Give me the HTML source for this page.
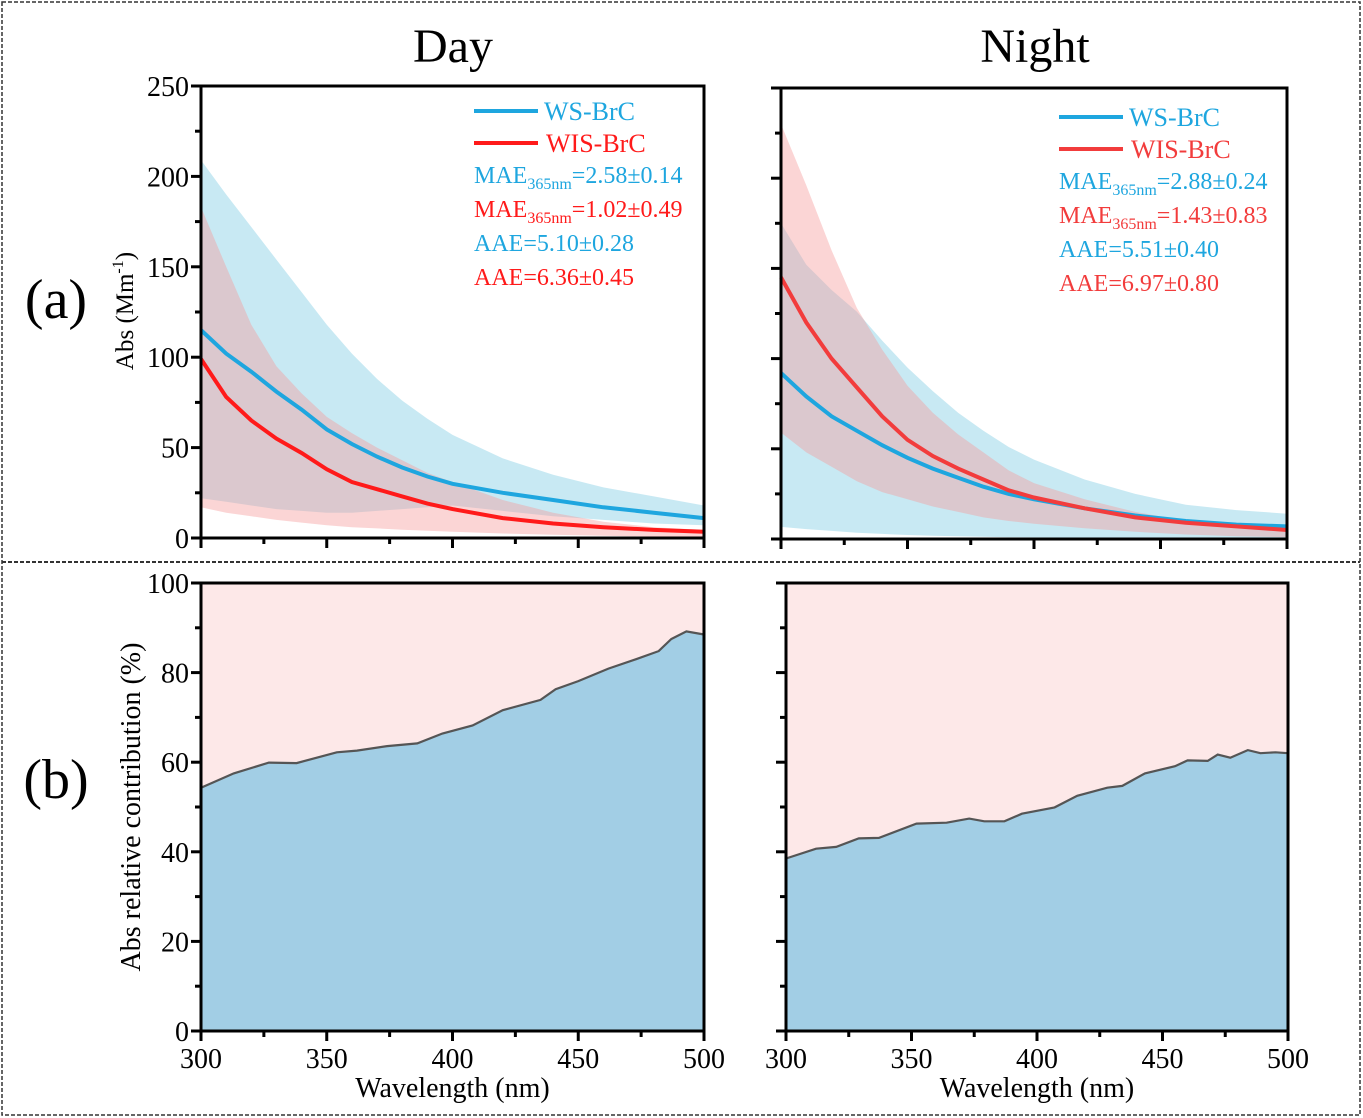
<!DOCTYPE html>
<html><head><meta charset="utf-8">
<style>
html,body{margin:0;padding:0;background:#fff;}
svg, svg text{font-family:"Times New Roman","Liberation Serif",Times,serif;}
svg{display:block;}
</style></head>
<body>
<svg id="fig" width="1363" height="1118" viewBox="0 0 1363 1118" xmlns="http://www.w3.org/2000/svg">
  <rect x="2" y="2" width="1358" height="1113" fill="none" stroke="#333" stroke-width="1.5" stroke-dasharray="4,2"/>
  <line x1="2" y1="562" x2="1360" y2="562" stroke="#333" stroke-width="2" stroke-dasharray="4,2"/>
  <text x="453" y="62" font-size="48" text-anchor="middle">Day</text>
  <text x="1035" y="62" font-size="48" text-anchor="middle">Night</text>
  <text x="56" y="318" font-size="56" text-anchor="middle">(a)</text>
  <text x="56" y="798" font-size="56" text-anchor="middle">(b)</text>
  <text transform="translate(133,311) rotate(-90)" font-size="25" text-anchor="middle">Abs (Mm<tspan font-size="16" dy="-10">-1</tspan><tspan dy="10">)</tspan></text>
  <text transform="translate(140,807) rotate(-90)" font-size="28" text-anchor="middle">Abs relative contribution (%)</text>
  <g id="plots"></g>
</svg>
<script>
const wl = [300,310,320,330,340,350,360,370,380,390,400,420,440,460,480,500];
const dayWS = [115,102,92,81,71,60,52,45,39,34,30,25,21,17,14,11];
const dayWSUp = [209,190,172,154,136,118,102,88,76,66,57,44,35,28,23,18];
const dayWSLo = [22,20,18,16,15,14,14,15,16,17,18,15,12,10,8,7];
const dayWIS = [99,78,65,55,47,38,31,27,23,19,16,11,8,6,4.5,3.5];
const dayWISUp = [183,150,118,95,80,67,58,50,43,36,31,21,14,9,6,4.5];
const dayWISLo = [17,14,12,10,8.5,7,6,5.3,4.6,4,3.5,2.5,1.8,1.2,0.8,0.5];
const nightWS = [92,79,68,60,52,45,39,34,29,25,22,17,13,10,8,7];
const nightWSUp = [175,152,138,126,110,95,82,70,60,51,44,33,25,19,16,14];
const nightWSLo = [6.7,5.5,4.5,3.5,2.8,2.2,1.8,1.5,1.2,1,0.9,0.8,0.7,0.6,0.5,0.5];
const nightWIS = [145,120,100,84,68,55,46,39,33,27,23,17,12,9,7,5];
const nightWISUp = [230,196,160,128,105,85,70,58,48,38,31,22,15,10,7,6];
const nightWISLo = [59,48,40,32,26,22,18,15,12,10,8.5,6,4,2.5,1.5,1];
const dayPctWl = [300,313,327,338,354,362,374,386,396,408,420,435,441,450,462,473,482,487,493,500];
const dayPct = [54.3,57.5,59.9,59.8,62.2,62.6,63.6,64.2,66.4,68.2,71.6,73.9,76.3,78.1,80.9,83,84.8,87.5,89.2,88.5];
const nightPctWl = [300,312,320,329,337,352,364,373,379,387,394,407,416,428,434,443,455,460,468,472,477,484,489,495,500];
const nightPct = [38.5,40.7,41.1,43,43.1,46.3,46.5,47.4,46.8,46.8,48.5,49.9,52.5,54.3,54.7,57.5,59.1,60.4,60.3,61.7,61,62.7,62,62.2,62];
const xTicks = [300,350,400,450,500];
const absTicks = [0,50,100,150,200,250];
const pctTicks = [0,20,40,60,80,100];

const NS = "http://www.w3.org/2000/svg";
const root = document.getElementById('plots');
function mk(tag, attrs, parent){const e=document.createElementNS(NS,tag);for(const k in attrs)e.setAttribute(k,attrs[k]);(parent||root).appendChild(e);return e;}
function lin(d0,d1,r0,r1){return v=>r0+(v-d0)/(d1-d0)*(r1-r0);}
function linePath(xs,ys,sx,sy){return xs.map((x,i)=>(i?'L':'M')+sx(x).toFixed(1)+','+sy(ys[i]).toFixed(1)).join('');}
function bandPath(xs,lo,hi,sx,sy){let p=linePath(xs,hi,sx,sy);for(let i=xs.length-1;i>=0;i--)p+='L'+sx(xs[i]).toFixed(1)+','+sy(lo[i]).toFixed(1);return p+'Z';}

function axes(g,sx,sy,x0,x1,y0,y1,ymin,ymax,yt,showY,showX){
  mk('rect',{x:x0,y:y1,width:x1-x0,height:y0-y1,fill:'none',stroke:'#000','stroke-width':3},g);
  yt.forEach((v,i)=>{
    const y=sy(v);
    const t=mk('line',{x1:x0-10,x2:x0,y1:y,y2:y,stroke:'#000','stroke-width':3},g);
    
    
    if(i<yt.length-1){const ym=sy((v+yt[i+1])/2);const m=mk('line',{x1:x0-6,x2:x0,y1:ym,y2:ym,stroke:'#000','stroke-width':3},g);
      
      }
    if(showY){const l=mk('text',{x:x0-12,y:y+10,'font-size':28,'text-anchor':'end'},g);l.textContent=v;
      
      }
  });
  xTicks.forEach((v,i)=>{
    const x=sx(v);
    const t=mk('line',{x1:x,x2:x,y1:y0,y2:y0+10,stroke:'#000','stroke-width':3},g);
    
    
    if(i<xTicks.length-1){const xm=sx(v+25);const m=mk('line',{x1:xm,x2:xm,y1:y0,y2:y0+6,stroke:'#000','stroke-width':3},g);
      
      }
    if(showX){const l=mk('text',{x:x,y:y0+37,'font-size':28,'text-anchor':'middle'},g);l.textContent=v;
      
      }
  });
  if(showX){const t=mk('text',{x:(x0+x1)/2,y:y0+66,'font-size':28,'text-anchor':'middle'},g);t.textContent='Wavelength (nm)';
    
    }
}

function absPanel(name,x0,x1,y1,y0,ws,wsU,wsL,wis,wisU,wisL,wisColor,legX,legY,labels,showY){
  const g=mk('g',{});
  
  
  const sx=lin(300,500,x0,x1), sy=lin(0,250,y0,y1);
  const b1=mk('path',{d:bandPath(wl,wsL,wsU,sx,sy),fill:'#a6dcec','fill-opacity':0.62},g);
  
  
  const b2=mk('path',{d:bandPath(wl,wisL,wisU,sx,sy),fill:'#f59a9a','fill-opacity':0.42},g);
  
  
  const l1=mk('path',{d:linePath(wl,ws,sx,sy),fill:'none',stroke:'#1ea6df','stroke-width':4},g);
  
  
  const l2=mk('path',{d:linePath(wl,wis,sx,sy),fill:'none',stroke:wisColor,'stroke-width':4},g);
  
  
  axes(g,sx,sy,x0,x1,y0,y1,0,250,absTicks,showY,false);
  const lg=mk('g',{},g);
  
  
  mk('line',{x1:legX,x2:legX+64,y1:legY,y2:legY,stroke:'#1ea6df','stroke-width':4},lg);
  let t=mk('text',{x:legX+70,y:legY+9,'font-size':26,fill:'#1ea6df'},lg);t.textContent='WS-BrC';
  
  
  mk('line',{x1:legX,x2:legX+64,y1:legY+32,y2:legY+32,stroke:wisColor,'stroke-width':4},lg);
  t=mk('text',{x:legX+72,y:legY+41,'font-size':26,fill:wisColor},lg);t.textContent='WIS-BrC';
  
  
  const cols=['#1ea6df',wisColor,'#1ea6df',wisColor];
  labels.forEach((s,i)=>{
    const y=legY+72+i*34;
    const tt=mk('text',{x:legX,y:y,'font-size':24,fill:cols[i]},lg);
    
    
    if(s[0]==='M'){
      tt.appendChild(document.createTextNode('MAE'));
      const sb=mk('tspan',{'font-size':16,dy:6},tt);sb.textContent='365nm';
      const r=mk('tspan',{dy:-6},tt);r.textContent=s.slice(1);
    } else tt.textContent=s;
  });
}

function pctPanel(name,x0,x1,y1,y0,xs,vals){
  const g=mk('g',{});
  
  
  const sx=lin(300,500,x0,x1), sy=lin(0,100,y0,y1);
  const bg=mk('rect',{x:x0,y:y1,width:x1-x0,height:y0-y1,fill:'#fde8e8'},g);
  
  
  let p=linePath(xs,vals,sx,sy)+'L'+sx(500)+','+sy(0)+'L'+sx(300)+','+sy(0)+'Z';
  const a=mk('path',{d:p,fill:'#a2cee5'},g);
  
  
  const l=mk('path',{d:linePath(xs,vals,sx,sy),fill:'none',stroke:'#555','stroke-width':2.2},g);
  
  
  axes(g,sx,sy,x0,x1,y0,y1,0,100,pctTicks,name==='day-contribution-panel',true);
}

absPanel('day-abs-panel',201,704,86,538,dayWS,dayWSUp,dayWSLo,dayWIS,dayWISUp,dayWISLo,'#ff1a1a',474,111,
  ['M=2.58±0.14','M=1.02±0.49','AAE=5.10±0.28','AAE=6.36±0.45'],true);
absPanel('night-abs-panel',781,1287,88,539,nightWS,nightWSUp,nightWSLo,nightWIS,nightWISUp,nightWISLo,'#f23c3c',1059,117,
  ['M=2.88±0.24','M=1.43±0.83','AAE=5.51±0.40','AAE=6.97±0.80'],false);
pctPanel('day-contribution-panel',201,704,583,1031,dayPctWl,dayPct);
pctPanel('night-contribution-panel',786,1288,583,1031,nightPctWl,nightPct);
</script>
</body></html>
